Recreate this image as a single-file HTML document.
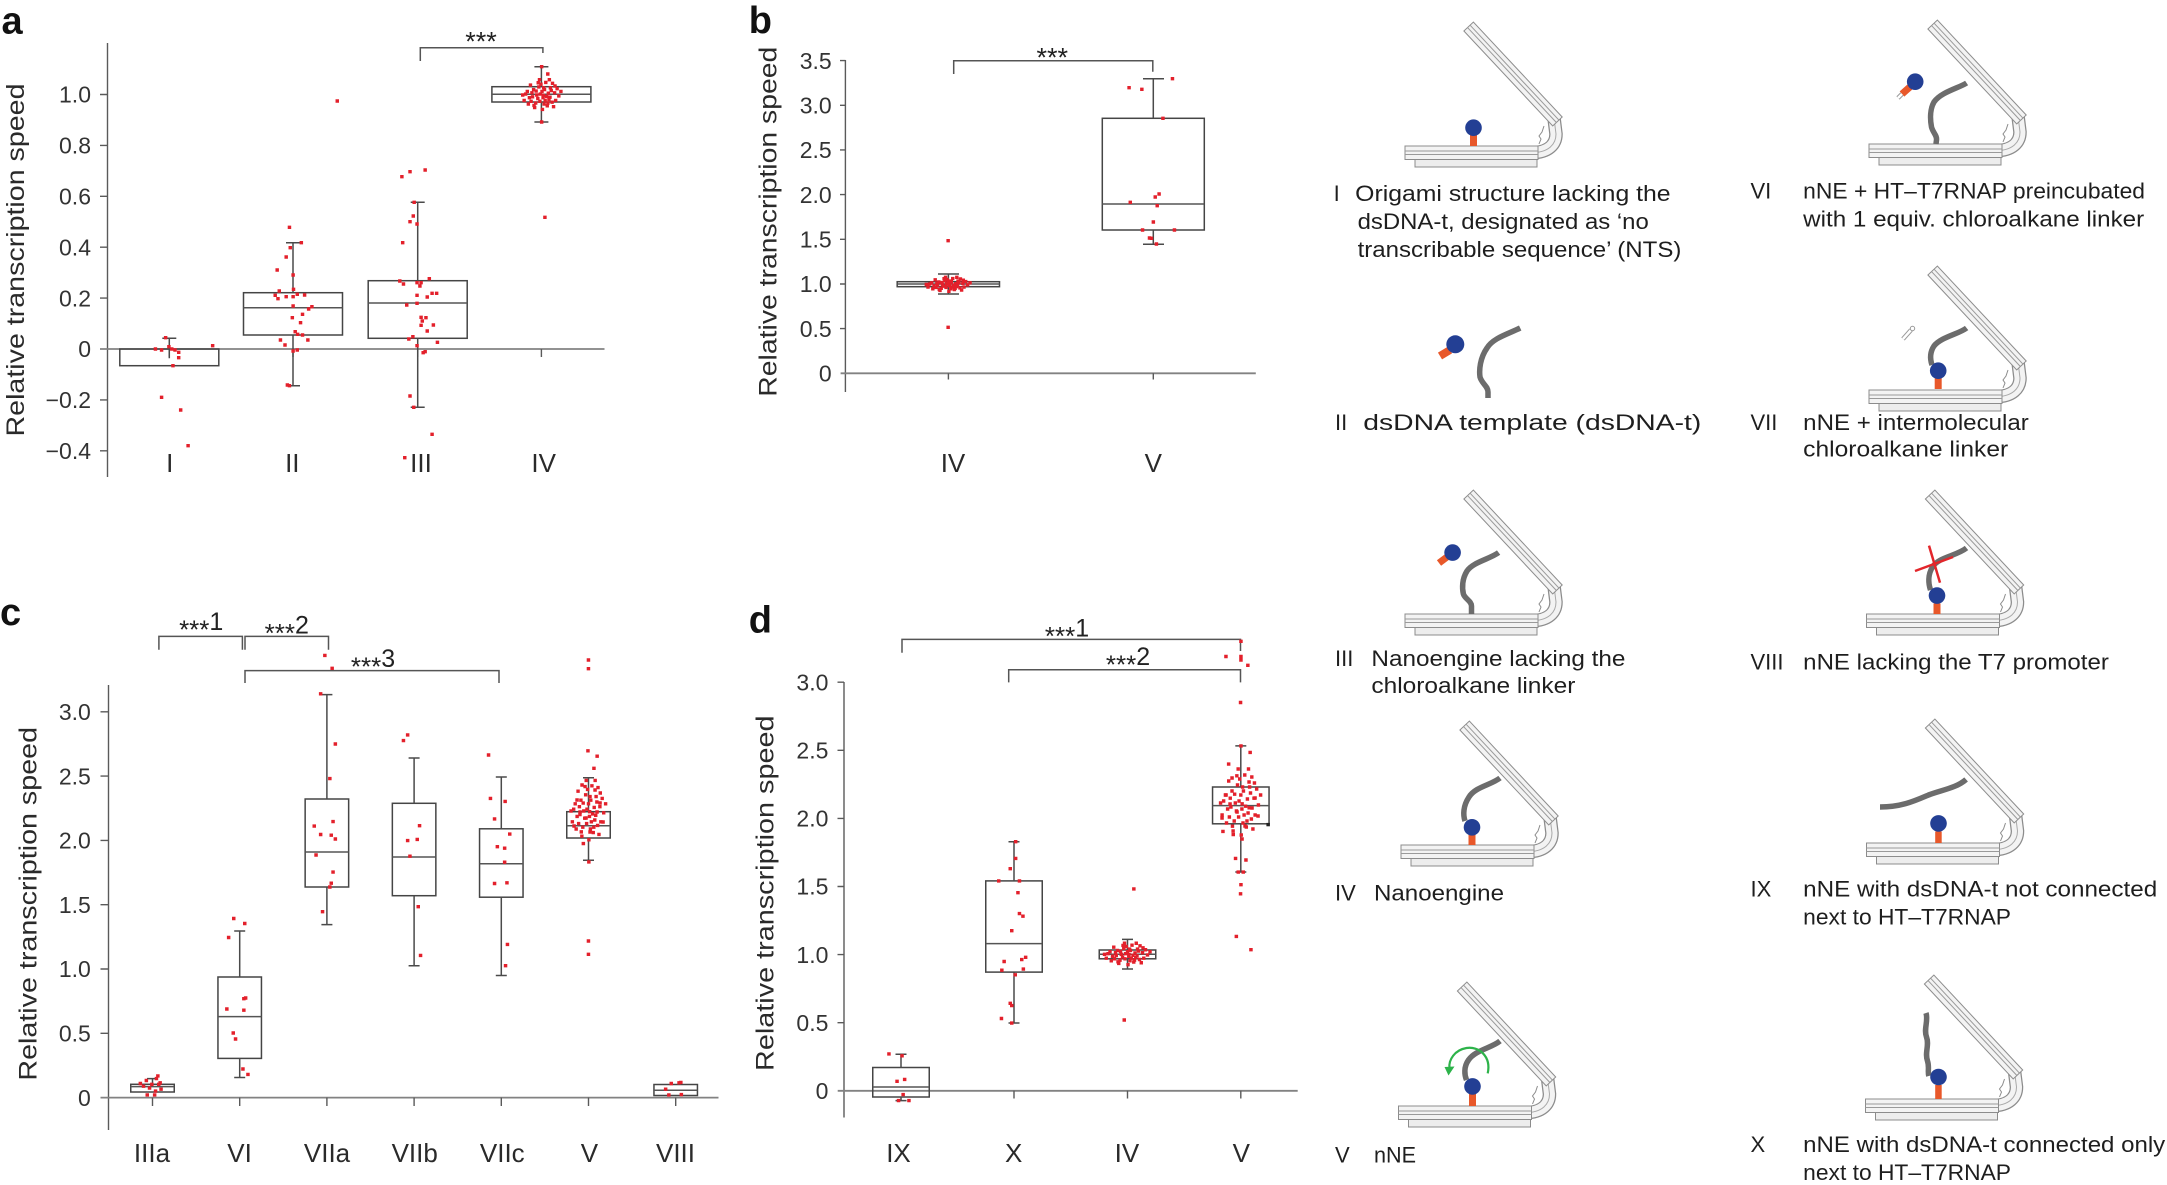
<!DOCTYPE html>
<html><head><meta charset="utf-8">
<style>
html,body{margin:0;padding:0;background:#fff;}
svg{display:block;}
text{font-family:"Liberation Sans",Arial,sans-serif;fill:#2a2a2a;}
.ax{stroke:#5a5a5a;stroke-width:1.4;fill:none;}
.zl{stroke:#828282;stroke-width:1.8;}
.bx{fill:none;stroke:#454545;stroke-width:1.5;}
.md{stroke:#555;stroke-width:1.5;}
.wk{stroke:#4a4a4a;stroke-width:1.5;fill:none;}
.br{stroke:#555;stroke-width:1.5;fill:none;}
.tk{font-size:23px;text-anchor:end;fill:#333;}
.cat{font-size:26px;text-anchor:middle;fill:#2a2a2a;}
.yl{font-size:25px;text-anchor:middle;fill:#2a2a2a;}
.lab{font-size:38px;font-weight:bold;fill:#111;}
.dt{fill:none;stroke:#e3202b;stroke-width:3.4;stroke-linecap:square;}
.dsc{font-size:22px;fill:#1e1e1e;}
.num{font-size:22px;fill:#1e1e1e;}
.st{fill:none;stroke:#6c6c6c;stroke-width:5.5;stroke-linecap:butt;}
.sig{text-anchor:middle;fill:#222;}
</style></head><body>
<svg xmlns="http://www.w3.org/2000/svg" xmlns:xlink="http://www.w3.org/1999/xlink" width="2167" height="1185" viewBox="0 0 2167 1185">
<defs>
<path id="cl" vector-effect="non-scaling-stroke" d="M-45 10h.1M12 -30h.1M33 25h.1M-8 -5h.1M60 -12h.1M-70 -20h.1M25 60h.1M-30 45h.1M5 15h.1M-15 -45h.1M48 40h.1M-55 -55h.1M80 5h.1M-85 30h.1M18 -70h.1M-25 0h.1M40 -40h.1M0 -20h.1M-40 -30h.1M65 30h.1M-10 35h.1M30 -10h.1M-60 15h.1M10 50h.1M50 -65h.1M-35 70h.1M22 8h.1M-5 -60h.1M72 -35h.1M-78 -5h.1M-20 20h.1M38 12h.1M-48 -12h.1M8 -40h.1M55 65h.1M-65 50h.1M15 30h.1M-28 -22h.1M90 -20h.1M-92 0h.1M2 80h.1M-12 -85h.1M44 -25h.1M-38 58h.1M28 45h.1M-52 35h.1M62 -50h.1M-18 -68h.1M6 2h.1M35 -85h.1"/>
<g id="hg">
<rect x="10" y="13" width="122" height="8" fill="#ededed" stroke="#8c8c8c" stroke-width="1"/>
<path d="M126,6.7 C144,6.7 151,-2 151,-12 L149,-28" fill="none" stroke="#8c8c8c" stroke-width="13.5"/>
<path d="M126,6.7 C144,6.7 151,-2 151,-12 L149,-28" fill="none" stroke="#f3f3f3" stroke-width="11"/>
<path d="M126,6.7 C144,6.7 151,-2 151,-12 L149,-28" fill="none" stroke="#a8a8a8" stroke-width="1"/>
<rect x="0" y="0" width="133" height="13.5" fill="#f3f3f3" stroke="#8c8c8c" stroke-width="1"/>
<line x1="0" y1="5" x2="133" y2="5" stroke="#9a9a9a" stroke-width="1"/>
<line x1="0" y1="8.5" x2="133" y2="8.5" stroke="#9a9a9a" stroke-width="1"/>
<g transform="translate(65,-118) rotate(46.9)">
<rect x="-2" y="-6.5" width="130" height="13" fill="#f3f3f3" stroke="#8c8c8c" stroke-width="1"/>
<line x1="-2" y1="-2" x2="128" y2="-2" stroke="#9a9a9a" stroke-width="1"/>
<line x1="-2" y1="1.5" x2="128" y2="1.5" stroke="#9a9a9a" stroke-width="1"/>
</g>
<path d="M134,-2 l2,-5 l-2,-3 l3,-4 l2,-6" fill="none" stroke="#8c8c8c" stroke-width="1"/>
</g>
</defs>

<!-- ================= PANEL A ================= -->
<text class="lab" x="1.5" y="33.3">a</text>
<line class="ax" x1="107.5" y1="43" x2="107.5" y2="477"/>
<path class="ax" d="M100 94.5H107.5M100 145.4H107.5M100 196.3H107.5M100 247.2H107.5M100 298.1H107.5M100 399.9H107.5M100 450.8H107.5"/>
<line class="zl" x1="100" y1="349" x2="604.5" y2="349"/>
<path class="ax" d="M169.3 349V357M293 349V357M417.7 349V357M541.4 349V357"/>
<text class="tk" x="91" y="102.7">1.0</text>
<text class="tk" x="91" y="153.6">0.8</text>
<text class="tk" x="91" y="204.5">0.6</text>
<text class="tk" x="91" y="255.4">0.4</text>
<text class="tk" x="91" y="306.3">0.2</text>
<text class="tk" x="91" y="357.2">0</text>
<text class="tk" x="91" y="408.1">−0.2</text>
<text class="tk" x="91" y="459">−0.4</text>
<text class="yl" transform="translate(24.1,260) rotate(-90)" textLength="353" lengthAdjust="spacingAndGlyphs">Relative transcription speed</text>
<rect class="bx" x="119.8" y="349" width="99" height="16.7"/>
<path class="wk" d="M169.3 338.3V358.3M162.3 338.3H176.3"/>
<rect class="bx" x="243.5" y="292.7" width="99" height="42.3"/>
<path class="md" d="M243.5 307.7H342.5"/>
<path class="wk" d="M293 242.7V292.7M293 335V385.7M286 242.7H300M286 385.7H300"/>
<rect class="bx" x="368.2" y="280.7" width="99" height="57.6"/>
<path class="md" d="M368.2 303H467.2"/>
<path class="wk" d="M417.7 202.3V280.7M417.7 338.3V407.3M410.7 202.3H424.7M410.7 407.3H424.7"/>
<rect class="bx" x="491.9" y="86.7" width="99" height="15.3"/>
<path class="md" d="M491.9 94.3H590.9"/>
<path class="wk" d="M541.4 66.7V86.7M541.4 102V122M534.4 66.7H548.4M534.4 122H548.4"/>
<path class="br" d="M420.3 61V47.7H542.9V53"/>
<text class="sig" x="481" y="50.7" font-size="27">***</text>
<text class="cat" x="169.7" y="472">I</text>
<text class="cat" x="292.3" y="472">II</text>
<text class="cat" x="421" y="472">III</text>
<text class="cat" x="543.7" y="472">IV</text>
<g transform="scale(0.98977,1)">
<path class="dt" d="M157 349h.1M163.2 350h.1M167.3 337.7h.1M170.6 346.7h.1M173.5 349h.1M176.8 350h.1M180.5 352.3h.1M180.5 357.7h.1M174.7 365.7h.1M214.8 345.7h.1M163.2 397.3h.1M182.5 410h.1M190 445.7h.1
M292.4 227.3h.1M304.4 242.7h.1M293.2 247.7h.1M289.1 257h.1M280 270h.1M296.1 275h.1M282.1 291h.1M278 295.3h.1M280.8 298.7h.1M289.1 296.7h.1M296.5 289.3h.1M296.1 296.7h.1M300.3 294.3h.1M307.7 295h.1M315.1 306.7h.1M311.8 309h.1M296.1 306h.1M305.6 314.3h.1M295.3 317.7h.1M303.6 322.7h.1M298.2 331.7h.1M300.7 334.3h.1M305.6 335h.1M283.3 340h.1M311 340h.1M287.9 345h.1M296.1 351h.1M300.3 350h.1M290.3 385h.1M292.4 385.7h.1M340.7 101h.1
M406 176.7h.1M414.2 171.7h.1M429.5 170h.1M418.4 202.3h.1M417.5 216h.1M414.2 221.7h.1M421.3 224h.1M406.8 242.7h.1M403.9 281h.1M407.6 284h.1M421.3 282.7h.1M425.4 282.7h.1M424.2 286h.1M433.7 278.7h.1M436.5 293.3h.1M441.1 293.3h.1M431.6 297h.1M421.3 295.3h.1M410.9 305h.1M421.3 303.3h.1M425.4 317.3h.1M430.3 317.7h.1M426.6 321h.1M437.8 325h.1M425.4 325.3h.1M431.6 331h.1M417.1 336.7h.1M413 339h.1M421.3 345.7h.1M441.9 342.3h.1M429.5 351.7h.1M427.5 352.7h.1M414.2 396h.1M418 407.3h.1M436.5 434.3h.1M408.9 457.7h.1
M547.2 66.7h.1M553.4 74h.1M547.2 122h.1M550.5 217.3h.1"/>
</g>
<use href="#cl" xlink:href="#cl" class="dt" transform="translate(542,95) scale(0.21,0.18)"/>

<!-- ================= PANEL B ================= -->
<text class="lab" x="748.8" y="33">b</text>
<line class="ax" x1="845.4" y1="60" x2="845.4" y2="392"/>
<path class="ax" d="M840 60.6H845.4M840 105.3H845.4M840 149.9H845.4M840 194.6H845.4M840 239.3H845.4M840 284H845.4M840 328.6H845.4"/>
<line class="zl" x1="840.6" y1="373.3" x2="1255.8" y2="373.3"/>
<path class="ax" d="M948.4 373.3V379.5M1153.3 373.3V379.5"/>
<text class="tk" x="831.7" y="68.8">3.5</text>
<text class="tk" x="831.7" y="113.5">3.0</text>
<text class="tk" x="831.7" y="158.1">2.5</text>
<text class="tk" x="831.7" y="202.8">2.0</text>
<text class="tk" x="831.7" y="247.5">1.5</text>
<text class="tk" x="831.7" y="292.2">1.0</text>
<text class="tk" x="831.7" y="336.8">0.5</text>
<text class="tk" x="831.7" y="381.5">0</text>
<text class="yl" transform="translate(776.3,221.7) rotate(-90)" textLength="350" lengthAdjust="spacingAndGlyphs">Relative transcription speed</text>
<rect class="bx" x="897.2" y="281.7" width="102.3" height="5"/>
<path class="md" d="M897.2 284H999.5"/>
<path class="wk" d="M948.4 274V281.7M948.4 286.7V294M938 274H959M938 294H959"/>
<rect class="bx" x="1102.3" y="118.3" width="102" height="111.7"/>
<path class="md" d="M1102.3 204H1204.3"/>
<path class="wk" d="M1153.3 78.7V118.3M1153.3 230V244.3M1143 78.7H1164M1143 244.3H1164"/>
<path class="br" d="M953.7 74V60.7H1152.8V71.7"/>
<text class="sig" x="1052.3" y="66.5" font-size="27">***</text>
<text class="cat" x="953" y="472">IV</text>
<text class="cat" x="1153.3" y="472">V</text>
<g transform="matrix(0.9904,0,0,1,6.91,0)">
<path class="dt" d="M1133 87.7h.1M1145.9 89.3h.1M1176.8 78.7h.1M1167.2 118.3h.1M1163.3 194h.1M1159.4 197h.1M1134.2 202.3h.1M1161.4 205.7h.1M1157.5 222h.1M1146.6 230h.1M1178.8 230h.1M1153.6 238h.1M1155.5 238.3h.1M1160.6 244h.1M950.3 240.7h.1M950.3 327.3h.1"/>
</g>
<use href="#cl" xlink:href="#cl" class="dt" transform="translate(948.4,284.5) scale(0.24,0.085)"/>

<!-- ================= PANEL C ================= -->
<text class="lab" x="0" y="625">c</text>
<line class="ax" x1="108.5" y1="685" x2="108.5" y2="1130"/>
<path class="ax" d="M100.5 711.8H108.5M100.5 776.1H108.5M100.5 840.4H108.5M100.5 904.7H108.5M100.5 969H108.5M100.5 1033.3H108.5"/>
<line class="zl" x1="100.5" y1="1097.6" x2="718.5" y2="1097.6"/>
<path class="ax" d="M152.5 1097.6V1106M239.7 1097.6V1106M326.9 1097.6V1106M414.1 1097.6V1106M501.3 1097.6V1106M588.5 1097.6V1106M675.7 1097.6V1106"/>
<text class="tk" x="90.8" y="720">3.0</text>
<text class="tk" x="90.8" y="784.3">2.5</text>
<text class="tk" x="90.8" y="848.6">2.0</text>
<text class="tk" x="90.8" y="912.9">1.5</text>
<text class="tk" x="90.8" y="977.2">1.0</text>
<text class="tk" x="90.8" y="1041.5">0.5</text>
<text class="tk" x="90.8" y="1105.8">0</text>
<text class="yl" transform="translate(36.4,903.8) rotate(-90)" textLength="353.6" lengthAdjust="spacingAndGlyphs">Relative transcription speed</text>
<rect class="bx" x="130.75" y="1084.3" width="43.5" height="7.7"/>
<path class="md" d="M130.75 1086.6H174.25"/>
<path class="wk" d="M152.5 1078.6V1084.3M147 1078.6H158"/>
<rect class="bx" x="217.95" y="977" width="43.5" height="81.4"/>
<path class="md" d="M217.95 1016.6H261.45"/>
<path class="wk" d="M239.7 931V977M239.7 1058.4V1077.5M234.2 931H245.2M234.2 1077.5H245.2"/>
<rect class="bx" x="305.15" y="799" width="43.5" height="88"/>
<path class="md" d="M305.15 852H348.65"/>
<path class="wk" d="M326.9 694.6V799M326.9 887V924.6M321.4 694.6H332.4M321.4 924.6H332.4"/>
<rect class="bx" x="392.35" y="803.3" width="43.5" height="92.4"/>
<path class="md" d="M392.35 857H435.85"/>
<path class="wk" d="M414.1 758V803.3M414.1 895.7V965.7M408.6 758H419.6M408.6 965.7H419.6"/>
<rect class="bx" x="479.55" y="828.8" width="43.5" height="68.4"/>
<path class="md" d="M479.55 863.8H523.05"/>
<path class="wk" d="M501.3 777V828.8M501.3 897.2V975.5M495.8 777H506.8M495.8 975.5H506.8"/>
<rect class="bx" x="566.75" y="811.7" width="43.5" height="26.3"/>
<path class="md" d="M566.75 825.7H610.25"/>
<path class="wk" d="M588.5 777.8V811.7M588.5 838V860.3M583 777.8H594M583 860.3H594"/>
<rect class="bx" x="653.95" y="1084.5" width="43.5" height="11"/>
<path class="md" d="M653.95 1090.3H697.45"/>
<path class="br" d="M158.9 649.7V636.4H242.4V649.7M245 649.7V636.4H328.5V649.7M245 683V670.6H499V683"/>
<text class="sig" x="201.2" y="630"><tspan font-size="26" dy="8.5">***</tspan><tspan font-size="25" dy="-8.5">1</tspan></text>
<text class="sig" x="286.8" y="633.7"><tspan font-size="26" dy="8.5">***</tspan><tspan font-size="25" dy="-8.5">2</tspan></text>
<text class="sig" x="373" y="667.2"><tspan font-size="26" dy="8.5">***</tspan><tspan font-size="25" dy="-8.5">3</tspan></text>
<text class="cat" x="152" y="1162">IIIa</text>
<text class="cat" x="239.6" y="1162">VI</text>
<text class="cat" x="327" y="1162">VIIa</text>
<text class="cat" x="414.7" y="1162">VIIb</text>
<text class="cat" x="502.3" y="1162">VIIc</text>
<text class="cat" x="589.4" y="1162">V</text>
<text class="cat" x="675.5" y="1162">VIII</text>
<path class="dt" d="M140.3 1083.5h.1M146.3 1080.5h.1M147.2 1094.9h.1M151.8 1084.3h.1M154.6 1094.9h.1M156.4 1078.6h.1M157.8 1075.9h.1M158.7 1084.3h.1M161 1089.2h.1M149.5 1088.1h.1M155.5 1091.1h.1M143.5 1086.2h.1M160.1 1082.8h.1
M233.7 918.5h.1M244.7 923.5h.1M228.6 937.5h.1M243.8 998.7h.1M245.6 998h.1M226.8 1009h.1M243.8 1010.2h.1M233.2 1033h.1M235.5 1039h.1M242.9 1069h.1M247.9 1074.4h.1
M324.8 655.4h.1M332.1 668.3h.1M320.6 693.8h.1M335.3 744h.1M329.8 778.6h.1M314.2 826.1h.1M333 821.6h.1M320.6 834.5h.1M331.2 835.2h.1M335.3 839h.1M316 855h.1M333 872.1h.1M331.2 883.2h.1M329.8 887h.1M322.5 911.7h.1
M407.6 734.9h.1M403.4 740.6h.1M419.5 825.7h.1M407.6 840.6h.1M417.2 839.4h.1M409.9 856.2h.1M418.2 906.7h.1M420.5 955.4h.1
M488.5 755h.1M490.4 798.4h.1M505.1 801.4h.1M494.5 818.9h.1M509.7 834.1h.1M497.3 846.7h.1M504.6 848.2h.1M504.6 862.2h.1M494.5 883.5h.1M506.9 882.8h.1M507.4 944.4h.1M505.5 965.7h.1
M588.4 660h.1M588.4 668.7h.1M587.9 750.8h.1M597.1 756.2h.1M593.9 768.3h.1M588.4 941h.1M588.4 954.3h.1M588.8 861.9h.1M583.3 843.6h.1
M582 785h.1M595 790h.1M577 800h.1M600 803h.1M586 818h.1M574 826h.1M603 822h.1M590 832h.1M580 812h.1M597 812h.1
M665.6 1089.2h.1M671.2 1083.5h.1M679 1082.8h.1M680.8 1082.4h.1M668.8 1094.9h.1M681.3 1094.6h.1"/>
<use href="#cl" xlink:href="#cl" class="dt" transform="translate(588.5,811) scale(0.19,0.36)"/>

<!-- ================= PANEL D ================= -->
<text class="lab" x="748.8" y="632.6">d</text>
<line class="ax" x1="844" y1="682" x2="844" y2="1117.5"/>
<path class="ax" d="M837.5 682.2H844M837.5 750.3H844M837.5 818.4H844M837.5 886.5H844M837.5 954.6H844M837.5 1022.7H844"/>
<line class="zl" x1="837.7" y1="1090.8" x2="1297.7" y2="1090.8"/>
<path class="ax" d="M1014 1090.8V1098.5M1127.5 1090.8V1098.5M1240.8 1090.8V1098.5"/>
<text class="tk" x="828.4" y="690.4">3.0</text>
<text class="tk" x="828.4" y="758.5">2.5</text>
<text class="tk" x="828.4" y="826.6">2.0</text>
<text class="tk" x="828.4" y="894.7">1.5</text>
<text class="tk" x="828.4" y="962.8">1.0</text>
<text class="tk" x="828.4" y="1030.9">0.5</text>
<text class="tk" x="828.4" y="1099">0</text>
<text class="yl" transform="translate(773.3,893.2) rotate(-90)" textLength="355.5" lengthAdjust="spacingAndGlyphs">Relative transcription speed</text>
<rect class="bx" x="872.75" y="1067.5" width="56.5" height="29.5"/>
<path class="md" d="M872.75 1087H929.25"/>
<path class="wk" d="M901 1054.3V1067.5M901 1097V1100.6M895.5 1054.3H906.5M895.5 1100.6H906.5"/>
<rect class="bx" x="985.75" y="880.9" width="56.5" height="91.2"/>
<path class="md" d="M985.75 943.6H1042.25"/>
<path class="wk" d="M1014 841.7V880.9M1014 972.1V1023M1008.5 841.7H1019.5M1008.5 1023H1019.5"/>
<rect class="bx" x="1099.25" y="950" width="56.5" height="8.8"/>
<path class="md" d="M1099.25 954.3H1155.75"/>
<path class="wk" d="M1127.5 939.4V950M1127.5 958.8V969M1122 939.4H1133M1122 969H1133"/>
<rect class="bx" x="1212.55" y="787" width="56.5" height="36.8"/>
<path class="md" d="M1212.55 805.6H1269.05"/>
<path class="wk" d="M1240.8 745.9V787M1240.8 823.8V872M1235.3 745.9H1246.3M1235.3 872H1246.3"/>
<path class="br" d="M902 652.7V639.4H1240.5V651M1008.7 682.4V669.8H1240.5V682.4"/>
<text class="sig" x="1067" y="636.4"><tspan font-size="26" dy="8.5">***</tspan><tspan font-size="25" dy="-8.5">1</tspan></text>
<text class="sig" x="1128" y="665"><tspan font-size="26" dy="8.5">***</tspan><tspan font-size="25" dy="-8.5">2</tspan></text>
<text class="cat" x="898.5" y="1162">IX</text>
<text class="cat" x="1013.7" y="1162">X</text>
<text class="cat" x="1126.9" y="1162">IV</text>
<text class="cat" x="1241.3" y="1162">V</text>
<path class="dt" d="M888.9 1053.9h.1M902 1055.8h.1M897 1081.3h.1M904.6 1079.4h.1M903.1 1094.6h.1M898.5 1100.6h.1M908.9 1100.6h.1
M1015.6 841.7h.1M1015.6 858.4h.1M1010.2 868.7h.1M998.7 880.9h.1M1019.4 880.9h.1M1017.9 892.7h.1M1019.4 913.6h.1M1022.9 916.2h.1M1011.7 930.7h.1M1004.1 961.5h.1M1021.7 959.6h.1M1025.6 957.3h.1M1001.8 970.2h.1M1023.3 969.1h.1M1015.2 974.8h.1M1010.2 1003.3h.1M1011.7 1005.6h.1M1001.4 1018.5h.1M1011.7 1023.1h.1
M1133.8 888.9h.1M1124.2 1020h.1
M1240.9 641.3h.1M1225.9 656.5h.1M1240.9 656.5h.1M1240.9 660h.1M1247.8 665.3h.1M1240.5 702.5h.1M1250.1 752.4h.1M1228.6 764.1h.1M1240.9 745.9h.1M1242 839h.1M1235.5 858.4h.1M1245.9 860h.1M1238.2 872.1h.1M1243.2 872.1h.1M1240.9 884.7h.1M1240.5 893.8h.1M1236.3 936.4h.1M1250.9 949.7h.1M1222.9 831.4h.1M1233.2 834.5h.1
M1232 778h.1M1249 782h.1M1226 795h.1M1255 798h.1M1237 812h.1M1222 818h.1M1258 816h.1M1245 826h.1M1230 804h.1M1252 808h.1"/>
<path d="M1268.1 824.6h.1" fill="none" stroke="#222" stroke-width="3.4" stroke-linecap="square"/>
<use href="#cl" xlink:href="#cl" class="dt" transform="translate(1127.5,954.3) scale(0.25,0.13)"/>
<use href="#cl" xlink:href="#cl" class="dt" transform="translate(1240.8,803) scale(0.22,0.4)"/>

<!-- ================= SCHEMATICS ================= -->
<g transform="translate(1405,146)">
<use href="#hg" xlink:href="#hg"/>
<rect x="65" y="-11" width="7" height="11" fill="#e8582a"/>
<circle cx="68.5" cy="-18.3" r="8.3" fill="#233f94"/>
</g>
<g transform="translate(1869,144)">
<use href="#hg" xlink:href="#hg"/>
<path class="st" d="M97.6,-61 C90,-56 72,-52 65,-42 C61,-35 61,-25 62.5,-17 C64,-11 68,-9 67.5,-4 L67,0"/>
<path d="M42,-58 L33,-50" stroke="#e8582a" stroke-width="7" fill="none"/>
<path d="M33,-50 L29,-46" stroke="#999" stroke-width="4.5" fill="none"/>
<path d="M33,-50 L29,-46" stroke="#fff" stroke-width="2.5" fill="none"/>
<circle cx="46.2" cy="-62.3" r="8.3" fill="#233f94"/>
</g>
<path class="st" d="M1520.2,328 C1508,334 1493,338 1487,348 C1480,358 1479,370 1480,377 C1482,384 1488,386 1488,392 L1488,398"/>
<path d="M1450,350 L1440,356" stroke="#e8582a" stroke-width="8" fill="none"/>
<circle cx="1455.3" cy="344.3" r="9" fill="#233f94"/>
<g transform="translate(1869,390)">
<use href="#hg" xlink:href="#hg"/>
<path class="st" d="M97.6,-62 C90,-56 72,-53 65,-44 C61,-38 61,-31 63,-25"/>
<rect x="65.7" y="-12" width="7" height="11" fill="#e8582a"/>
<circle cx="69.2" cy="-19.3" r="8.3" fill="#233f94"/>
<path d="M34,-51 L42,-60" stroke="#999" stroke-width="4.5" fill="none"/>
<path d="M34,-51 L42,-60" stroke="#fff" stroke-width="2.5" fill="none"/>
<circle cx="43.5" cy="-61.5" r="2.2" fill="#fff" stroke="#999" stroke-width="1"/>
</g>
<g transform="translate(1405,614)">
<use href="#hg" xlink:href="#hg"/>
<path class="st" d="M93.6,-61.4 C85,-55 68,-52 62,-43 C57,-35 57,-26 58.4,-20 C60,-15 66.5,-13 66.5,-8 L66.5,0"/>
<path d="M42,-57 L34,-51" stroke="#e8582a" stroke-width="7" fill="none"/>
<circle cx="47.6" cy="-61.4" r="8.3" fill="#233f94"/>
</g>
<g transform="translate(1866.5,614)">
<use href="#hg" xlink:href="#hg"/>
<path class="st" d="M100,-66 C90,-58 72,-57 66,-47 C61,-39 62,-30 64,-24"/>
<rect x="67" y="-10.5" width="7" height="10.5" fill="#e8582a"/>
<circle cx="70.5" cy="-18.4" r="8.3" fill="#233f94"/>
<path d="M48.5,-43 L86.5,-57 M62.5,-68.4 L73.5,-31.3" stroke="#e3262b" stroke-width="2.5" fill="none"/>
</g>
<g transform="translate(1401,845)">
<use href="#hg" xlink:href="#hg"/>
<path class="st" d="M99,-67 C90,-60 74,-58 68,-48 C62,-39 62,-30 64,-24"/>
<rect x="67.5" y="-10.5" width="7" height="10.5" fill="#e8582a"/>
<circle cx="71" cy="-17.7" r="8.3" fill="#233f94"/>
</g>
<g transform="translate(1866.5,843)">
<use href="#hg" xlink:href="#hg"/>
<path class="st" d="M99.6,-63.6 C90,-55 75,-53 62,-48 C48,-42 35,-36 13.5,-36"/>
<rect x="68.7" y="-11.5" width="6.5" height="11.5" fill="#e8582a"/>
<circle cx="72" cy="-19.6" r="8.3" fill="#233f94"/>
</g>
<g transform="translate(1398.5,1106)">
<use href="#hg" xlink:href="#hg"/>
<path class="st" d="M101.5,-65 C93,-58 77,-56 70,-46 C65,-39 66,-31 68,-26"/>
<rect x="70.5" y="-12" width="7" height="12" fill="#e8582a"/>
<circle cx="74" cy="-19.6" r="8.3" fill="#233f94"/>
<path d="M89.2,-32.6 C93,-50 80,-60 68,-58 C56,-56 50,-46 51,-38" fill="none" stroke="#2db34a" stroke-width="2.2"/>
<polygon points="46,-39 56,-39.5 50,-30.5" fill="#2db34a"/>
</g>
<g transform="translate(1865.5,1099)">
<use href="#hg" xlink:href="#hg"/>
<path class="st" d="M60.5,-86 C63,-78 58,-70 61,-62 C64,-54 59,-46 62,-38 C64,-32 62,-28 63.3,-23"/>
<rect x="69.7" y="-14" width="6.5" height="14" fill="#e8582a"/>
<circle cx="73" cy="-22" r="8.3" fill="#233f94"/>
</g>

<text class="num" x="1333.6" y="201">I</text>
<text class="dsc" x="1355.2" y="201" textLength="315.4" lengthAdjust="spacingAndGlyphs">Origami structure lacking the</text>
<text class="dsc" x="1357.6" y="229" textLength="291.2" lengthAdjust="spacingAndGlyphs">dsDNA-t, designated as ‘no</text>
<text class="dsc" x="1357.6" y="257" textLength="323.8" lengthAdjust="spacingAndGlyphs">transcribable sequence’ (NTS)</text>

<text class="num" x="1335" y="430" font-size="24">II</text>
<text class="dsc" x="1363.3" y="430" font-size="24" textLength="338" lengthAdjust="spacingAndGlyphs">dsDNA template (dsDNA-t)</text>

<text class="num" x="1335" y="666">III</text>
<text class="dsc" x="1371.4" y="666" textLength="254" lengthAdjust="spacingAndGlyphs">Nanoengine lacking the</text>
<text class="dsc" x="1371.4" y="693" textLength="204" lengthAdjust="spacingAndGlyphs">chloroalkane linker</text>

<text class="num" x="1335" y="900.7">IV</text>
<text class="dsc" x="1374" y="900.7" textLength="130" lengthAdjust="spacingAndGlyphs">Nanoengine</text>

<text class="num" x="1335" y="1162.3">V</text>
<text class="dsc" x="1374" y="1162.3" textLength="42" lengthAdjust="spacingAndGlyphs">nNE</text>

<text class="num" x="1750.5" y="198.5">VI</text>
<text class="dsc" x="1803.2" y="198.5" textLength="341.8" lengthAdjust="spacingAndGlyphs">nNE + HT–T7RNAP preincubated</text>
<text class="dsc" x="1803.2" y="226.7" textLength="341" lengthAdjust="spacingAndGlyphs">with 1 equiv. chloroalkane linker</text>

<text class="num" x="1750.5" y="430">VII</text>
<text class="dsc" x="1803.2" y="430" textLength="225.6" lengthAdjust="spacingAndGlyphs">nNE + intermolecular</text>
<text class="dsc" x="1803.2" y="456.7" textLength="205" lengthAdjust="spacingAndGlyphs">chloroalkane linker</text>

<text class="num" x="1750.5" y="669.3">VIII</text>
<text class="dsc" x="1803.2" y="669.3" textLength="305.7" lengthAdjust="spacingAndGlyphs">nNE lacking the T7 promoter</text>

<text class="num" x="1750.5" y="896.6">IX</text>
<text class="dsc" x="1803.2" y="896.6" textLength="354" lengthAdjust="spacingAndGlyphs">nNE with dsDNA-t not connected</text>
<text class="dsc" x="1803.2" y="924.4" textLength="207.8" lengthAdjust="spacingAndGlyphs">next to HT–T7RNAP</text>

<text class="num" x="1750.5" y="1152">X</text>
<text class="dsc" x="1803.2" y="1152" textLength="362" lengthAdjust="spacingAndGlyphs">nNE with dsDNA-t connected only</text>
<text class="dsc" x="1803.2" y="1180" textLength="207.8" lengthAdjust="spacingAndGlyphs">next to HT–T7RNAP</text>
</svg>
</body></html>
